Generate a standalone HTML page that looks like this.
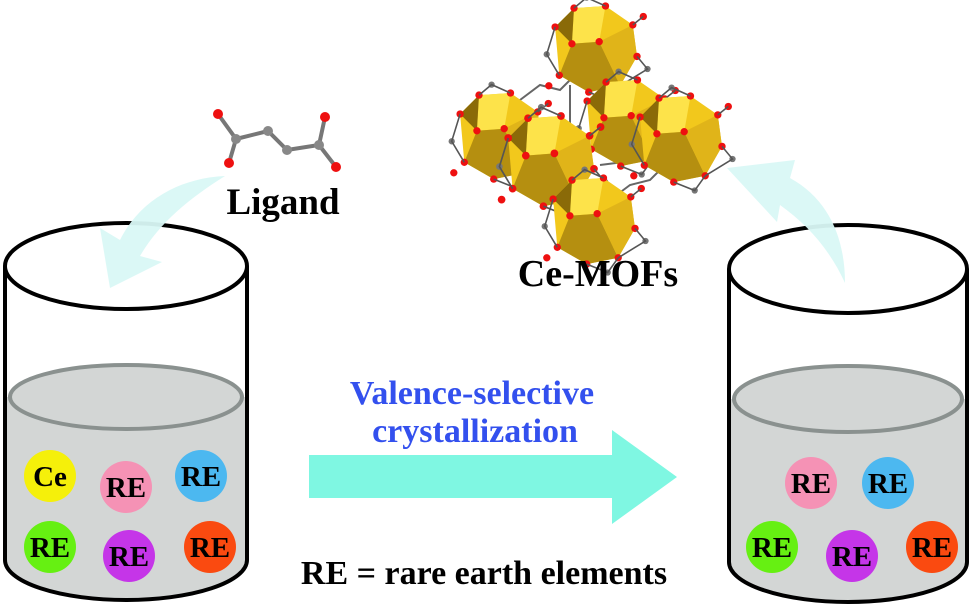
<!DOCTYPE html>
<html><head><meta charset="utf-8"><style>
html,body{margin:0;padding:0;background:#fff;}
svg{display:block;}
text{font-family:"Liberation Serif",serif;font-weight:bold;}
</style></head><body>
<svg width="975" height="606" viewBox="0 0 975 606" xmlns="http://www.w3.org/2000/svg">
<defs>
<g id="clus">
  <polygon points="-38,-20 -20,-38 10,-40 36,-22 40,8 24,36 -6,42 -34,26" fill="#f2c81c"/>
  <polygon points="-20,-38 10,-40 4,-6 -22,-4" fill="#fde34a"/>
  <polygon points="-22,-4 4,-6 24,36 -6,42 -34,26" fill="#b58f10"/>
  <polygon points="4,-6 36,-22 40,8 24,36" fill="#e0b419"/>
  <polygon points="-38,-20 -20,-38 -22,-4" fill="#8a6a08"/>
  <g fill="#ee1010">
    <circle cx="-38" cy="-20" r="3.5"/><circle cx="-20" cy="-38" r="3.5"/><circle cx="10" cy="-40" r="3.5"/>
    <circle cx="36" cy="-22" r="3.5"/><circle cx="40" cy="8" r="3.5"/><circle cx="24" cy="36" r="3.5"/>
    <circle cx="-6" cy="42" r="3.5"/><circle cx="-34" cy="26" r="3.5"/><circle cx="4" cy="-6" r="3.5"/>
    <circle cx="-22" cy="-4" r="3.5"/><circle cx="46" cy="-30" r="3.5"/><circle cx="-44" cy="36" r="3.5"/>
  </g>
  <g fill="#777"><circle cx="-46" cy="6" r="3"/><circle cx="50" cy="20" r="3"/><circle cx="14" cy="50" r="3"/><circle cx="-8" cy="-48" r="3"/></g>
  <path d="M-38,-20 L-46,6 L-34,26 M36,-22 L46,-30 M40,8 L50,20 L24,36 M-6,42 L14,50 L24,36 M-20,-38 L-8,-48 L10,-40" stroke="#555" stroke-width="1.5" fill="none"/>
</g>
</defs>

<!-- MOF linkers -->
<g stroke="#666" stroke-width="2" fill="none">
  <path d="M520,100 L540,85 L560,90 L575,75 L590,80"/>
  <path d="M570,85 L570,140 L575,160"/>
  <path d="M560,150 L600,150 L620,145"/>
  <path d="M585,160 L585,200 L590,210"/>
  <path d="M600,165 L640,160 L660,150"/>
  <path d="M610,200 L630,185 L650,180 L665,165"/>
</g>
<use href="#clus" transform="translate(595,48) scale(1.05)"/>
<use href="#clus" transform="translate(500,135) scale(1.05)"/>
<use href="#clus" transform="translate(627,122) scale(1.05)"/>
<use href="#clus" transform="translate(680,138) scale(1.05)"/>
<use href="#clus" transform="translate(550,160) scale(1.1)"/>
<use href="#clus" transform="translate(593,220) scale(1.05)"/>

<!-- Ligand molecule -->
<g stroke="#777" stroke-width="4" fill="none">
  <path d="M218,114 L236,139 L229,163 M236,139 L268,131 L287,150 L319,145 L325,117 M319,145 L336,167"/>
</g>
<g fill="#888"><circle cx="236" cy="139" r="5"/><circle cx="268" cy="131" r="5"/><circle cx="287" cy="150" r="5"/><circle cx="319" cy="145" r="5"/></g>
<g fill="#ee1010"><circle cx="218" cy="114" r="5"/><circle cx="229" cy="163" r="5"/><circle cx="325" cy="117" r="5"/><circle cx="336" cy="167" r="5"/></g>
<text x="283" y="214" font-size="37" text-anchor="middle">Ligand</text>
<text x="598" y="286" font-size="38" text-anchor="middle">Ce-MOFs</text>

<!-- Left beaker -->
<path d="M5,397 L5,560 A121,40 0 0 0 247,560 L247,397 Z" fill="#d3d6d5"/>
<ellipse cx="126" cy="397" rx="116" ry="32" fill="#d3d6d5" stroke="#8a918f" stroke-width="4"/>
<ellipse cx="126" cy="266" rx="121" ry="43" fill="none" stroke="#000" stroke-width="4"/>
<path d="M5,266 L5,560 A121,40 0 0 0 247,560 L247,266" fill="none" stroke="#000" stroke-width="4"/>

<!-- Right beaker -->
<path d="M729,399 L729,562 A119,40 0 0 0 967,562 L967,399 Z" fill="#d3d6d5"/>
<ellipse cx="848" cy="399" rx="114" ry="33" fill="#d3d6d5" stroke="#8a918f" stroke-width="4"/>
<ellipse cx="848" cy="269" rx="119" ry="44" fill="none" stroke="#000" stroke-width="4"/>
<path d="M729,269 L729,562 A119,40 0 0 0 967,562 L967,269" fill="none" stroke="#000" stroke-width="4"/>

<!-- Curved arrows -->
<path d="M225,176 C180,178 140,200 120,240 L100,228 L110,288 L162,262 L140,256 C160,222 190,198 225,176 Z" fill="#d9f8f5" opacity="0.95"/>
<path d="M845,283 C845,240 830,200 790,178 L795,160 L727,168 L777,222 L780,205 C808,225 830,250 845,283 Z" fill="#d9f8f5" opacity="0.95"/>

<!-- balls -->
<g font-size="29" text-anchor="middle">
  <circle cx="50" cy="476" r="26" fill="#f5f00a"/><text x="50" y="486">Ce</text>
  <circle cx="126" cy="487" r="26" fill="#f592b5"/><text x="126" y="497">RE</text>
  <circle cx="201" cy="476" r="26" fill="#4cb8f0"/><text x="201" y="486">RE</text>
  <circle cx="50" cy="547" r="26" fill="#66f012"/><text x="50" y="557">RE</text>
  <circle cx="129" cy="556" r="26" fill="#c535e8"/><text x="129" y="566">RE</text>
  <circle cx="210" cy="547" r="26" fill="#fa4a10"/><text x="210" y="557">RE</text>

  <circle cx="811" cy="483" r="26" fill="#f592b5"/><text x="811" y="493">RE</text>
  <circle cx="888" cy="483" r="26" fill="#4cb8f0"/><text x="888" y="493">RE</text>
  <circle cx="772" cy="547" r="26" fill="#66f012"/><text x="772" y="557">RE</text>
  <circle cx="852" cy="556" r="26" fill="#c535e8"/><text x="852" y="566">RE</text>
  <circle cx="932" cy="547" r="26" fill="#fa4a10"/><text x="932" y="557">RE</text>
</g>

<!-- Main arrow -->
<polygon points="309,455 612,455 612,430 677,477 612,524 612,498 309,498" fill="#7ff7e2"/>
<text x="472" y="404" font-size="34" fill="#3350ee" text-anchor="middle">Valence-selective</text>
<text x="475" y="442" font-size="34" fill="#3350ee" text-anchor="middle">crystallization</text>
<text x="484" y="584" font-size="34" text-anchor="middle">RE = rare earth elements</text>
</svg>
</body></html>
